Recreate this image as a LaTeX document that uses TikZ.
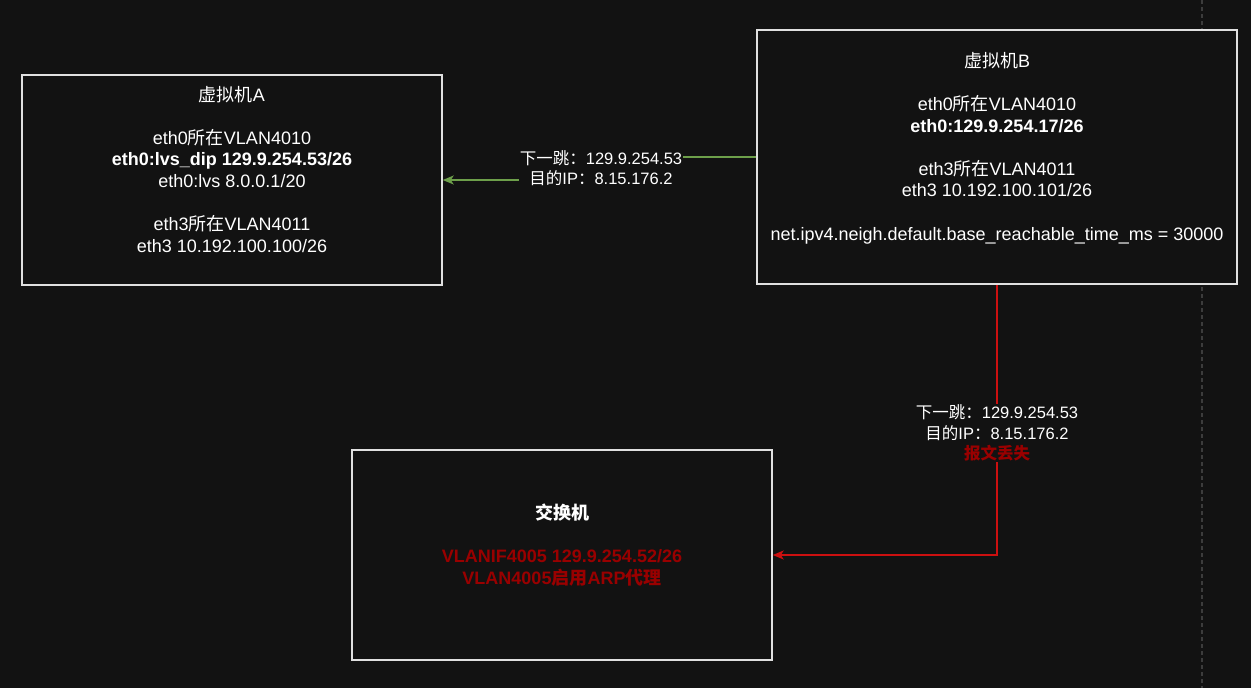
\documentclass[tikz,border=0pt]{standalone}
\usepackage{fontspec}
\usepackage{xcolor}
\usepackage{tikz}
\usetikzlibrary{
arrows.meta,
positioning
}
\setmainfont{Liberation Sans}
\newfontfamily\cjk{Noto Sans CJK SC}
\newcommand{\zh}[1]{{\cjk #1}}
\definecolor{netbg}{HTML}{121212}
\definecolor{netline}{HTML}{E0E0E0}
\definecolor{netgreen}{HTML}{6D9F4A}
\definecolor{netred}{HTML}{CC1010}
\definecolor{netdark}{HTML}{990000}
\definecolor{netdash}{HTML}{3C3C3C}
\tikzset{
  hostbox/.style={draw=netline, line width=1.5pt, fill=netbg, text=white,
    minimum width=420pt, minimum height=210pt, inner sep=0pt, align=center,
    font=\fontsize{18}{21.6}\selectfont},
  hoplabel/.style={fill=netbg, text=white, inner sep=1pt, align=center,
    font=\fontsize{16.5}{20.5}\selectfont},
  hopline/.style={line width=1.5pt, -{Stealth[length=11pt,width=9pt,inset=3pt]}}
}

\begin{document}
\begin{tikzpicture}[x=1pt,y=-1pt]
  % Canvas
  \fill[netbg] (0,0) rectangle (1251,688);
  \useasboundingbox (0,0) rectangle (1251,688);
  \draw[netdash, line width=1.5pt, dash pattern=on 4pt off 3pt] (1202,0) -- (1202,688);
  % Hosts and switch
  \node[hostbox] (vmA) at (232,180) {\zh{虚拟机}A\\ \mbox{}\\ eth0\zh{所在}VLAN4010\\
    \textbf{eth0:lvs\_dip 129.9.254.53/26}\\ eth0:lvs 8.0.0.1/20\\ \mbox{}\\
    eth3\zh{所在}VLAN4011\\ eth3 10.192.100.100/26\\ \mbox{}};
  \node[hostbox, minimum width=480pt, minimum height=254pt] (vmB) at (997,157)
    {\zh{虚拟机}B\\ \mbox{}\\ eth0\zh{所在}VLAN4010\\ \textbf{eth0:129.9.254.17/26}\\ \mbox{}\\
    eth3\zh{所在}VLAN4011\\ eth3 10.192.100.101/26\\ \mbox{}\\
    net.ipv4.neigh.default.base\_reachable\_time\_ms = 30000\\ \mbox{}};
  \node[hostbox] (sw) at (562,555) {\textbf{\zh{交换机}}\\ \mbox{}\\
    \textcolor{netdark}{\textbf{VLANIF4005 129.9.254.52/26}}\\
    \textcolor{netdark}{\textbf{VLAN4005\zh{启用}ARP\zh{代理}}}\\ \mbox{}};
  % Forwarding paths
  \coordinate (bend) at (600,157);
  \draw[hopline, netgreen] (vmB.west) -- (bend) |- (vmA.east);
  \node[hoplabel] (hopA) at (601,168) {\zh{下一跳：}129.9.254.53\\ \zh{目的}IP\zh{：}8.15.176.2};
  \draw[hopline, netred] (vmB.south) |- (sw.east);
  \node[hoplabel] (hopB) at (997,433) {\zh{下一跳：}129.9.254.53\\ \zh{目的}IP\zh{：}8.15.176.2\\
    \textcolor{netdark}{\textbf{\zh{报文丢失}}}};
\end{tikzpicture}
\end{document}
